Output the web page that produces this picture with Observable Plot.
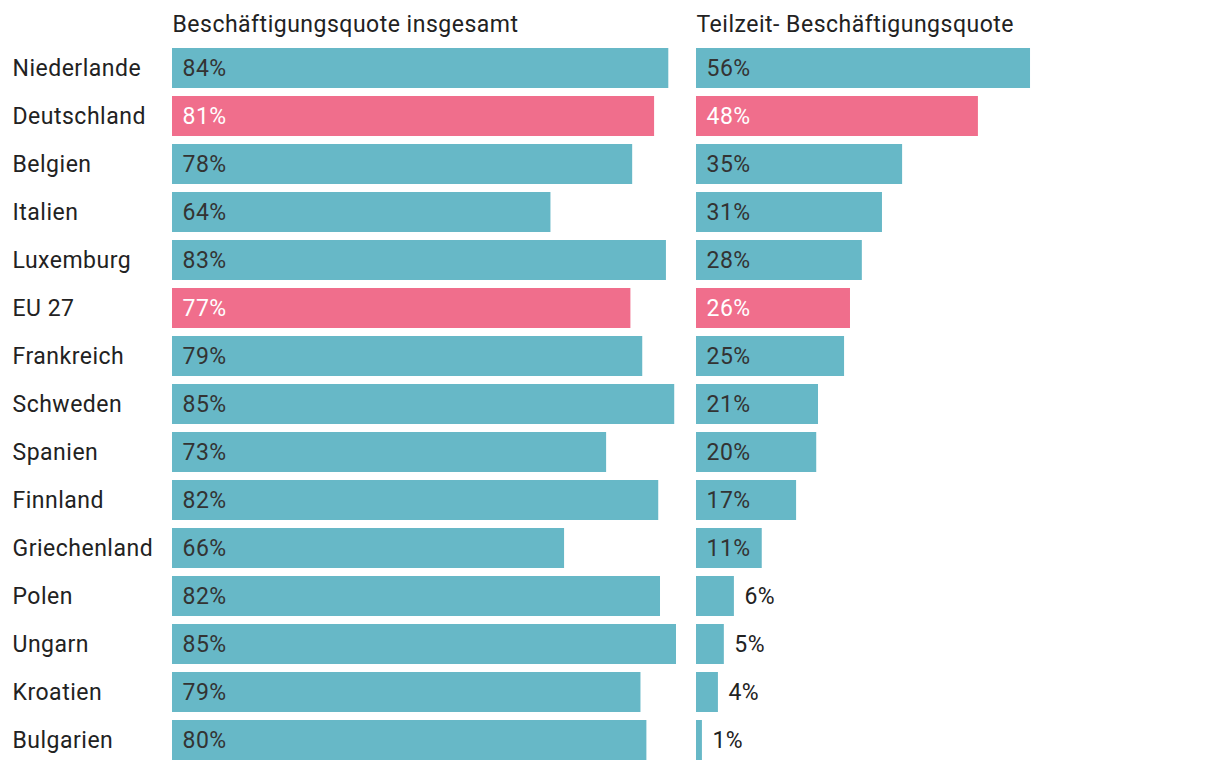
<!DOCTYPE html>
<html>
<head>
<meta charset="utf-8">
<script src="https://cdn.jsdelivr.net/npm/d3@7"></script>
<script src="https://cdn.jsdelivr.net/npm/@observablehq/plot@0.6"></script>
<style>
  html, body { margin: 0; padding: 0; background: #fff; }
  #chart svg { display: block; }
  #chart svg text { letter-spacing: 0.5px; }
</style>
</head>
<body>
<div id="chart"></div>
<script>
const countries = ["Niederlande", "Deutschland", "Belgien", "Italien", "Luxemburg", "EU 27", "Frankreich", "Schweden", "Spanien", "Finnland", "Griechenland", "Polen", "Ungarn", "Kroatien", "Bulgarien"];
const totalRate = [83.8, 81.4, 77.7, 63.9, 83.4, 77.4, 79.4, 84.8, 73.3, 82.1, 66.2, 82.4, 85.1, 79.1, 80.1];
const partTimeRate = [56.4, 47.6, 34.8, 31.4, 28.0, 26.0, 25.0, 20.6, 20.3, 16.9, 11.1, 6.4, 4.7, 3.7, 1.0];
const highlighted = ["Deutschland", "EU 27"];
const panelTitles = ["Beschäftigungsquote insgesamt", "Teilzeit- Beschäftigungsquote"];

const teal = "#67b8c7";
const pink = "#f06e8c";
const fs = 23;

const rows = [];
countries.forEach((c, i) => {
  rows.push({country: c, metric: panelTitles[0], value: totalRate[i], group: highlighted.includes(c) ? "hl" : "normal"});
  rows.push({country: c, metric: panelTitles[1], value: partTimeRate[i], group: highlighted.includes(c) ? "hl" : "normal"});
});
const label = d => `${Math.round(d.value)}%`;
const inside = d => d.value >= 10;
const xMax = d3.max(rows, d => d.value);

const chart = Plot.plot({
  width: 1220,
  height: 770,
  marginLeft: 172,
  marginRight: 20,
  marginTop: 48,
  marginBottom: 10,
  style: {fontFamily: "Roboto, sans-serif", fontSize: fs + "px", color: "#222", background: "#fff"},
  fx: {domain: panelTitles, axis: null, paddingInner: 20 / 524, paddingOuter: 0},
  x: {domain: [0, xMax], axis: null},
  y: {domain: countries, paddingInner: 1 / 6, paddingOuter: 0, axis: null},
  color: {domain: ["normal", "hl"], range: [teal, pink]},
  marks: [
    Plot.barX(rows, {fx: "metric", y: "country", x: "value", fill: "group"}),
    Plot.text(rows.filter(d => inside(d) && d.group === "normal"), {fx: "metric", y: "country", x: () => 0, text: label, textAnchor: "start", dx: 10, fill: "#333", fontSize: fs}),
    Plot.text(rows.filter(d => inside(d) && d.group === "hl"), {fx: "metric", y: "country", x: () => 0, text: label, textAnchor: "start", dx: 10, fill: "#fff", fontSize: fs}),
    Plot.text(rows.filter(d => !inside(d)), {fx: "metric", y: "country", x: "value", text: label, textAnchor: "start", dx: 10, fill: "#222", fontSize: fs}),
    Plot.text(panelTitles, {fx: d => d, text: d => d, frameAnchor: "top-left", textAnchor: "start", lineAnchor: "middle", dy: -24, fill: "#222", fontSize: fs}),
    Plot.axisY({tickSize: 0, tickPadding: 0, textAnchor: "start", dx: -160, fontSize: fs, fill: "#222", label: null})
  ]
});
document.getElementById("chart").appendChild(chart);
</script>
</body>
</html>
